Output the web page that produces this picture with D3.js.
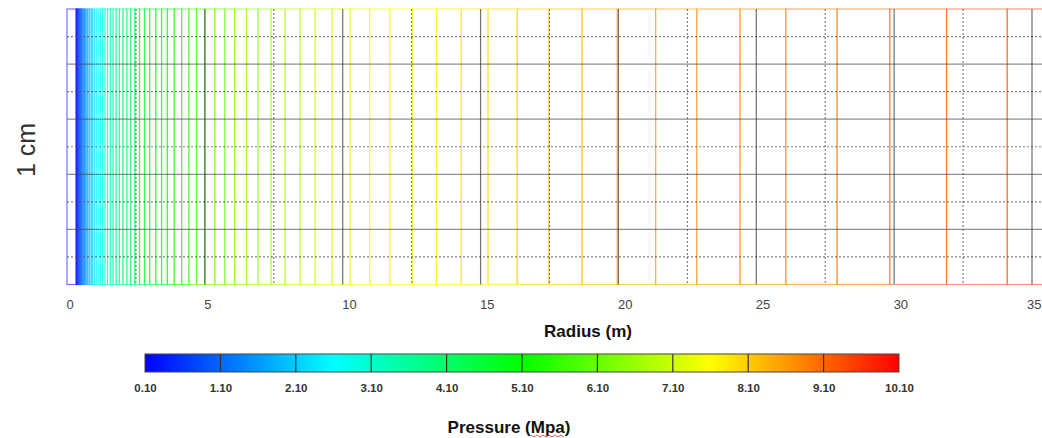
<!DOCTYPE html>
<html>
<head>
<meta charset="utf-8">
<script src="https://cdn.jsdelivr.net/npm/d3@7"></script>
<style>
  body { margin: 0; background: #fff; }
  svg { display: block; }
</style>
</head>
<body>
<div id="chart"></div>
<script>
// Mesh cell boundaries along the radius (m)
const cellEdges = [0, 0.33, 0.35, 0.38, 0.40, 0.43, 0.46, 0.49, 0.52, 0.55, 0.59, 0.63, 0.67, 0.72, 0.76,
  0.82, 0.88, 0.93, 0.99, 1.06, 1.13, 1.21, 1.29, 1.38, 1.47, 1.57, 1.67, 1.78, 1.90, 2.03, 2.17, 2.31,
  2.46, 2.63, 2.81, 3.00, 3.22, 3.43, 3.64, 3.89, 4.16, 4.42, 4.70, 5.00, 5.36, 5.72, 6.08, 6.51, 6.93,
  7.40, 7.91, 8.45, 9.00, 9.61, 10.27, 10.98, 11.71, 12.53, 13.40, 14.30, 15.27, 16.33, 17.48, 18.68,
  19.96, 21.35, 22.84, 24.41, 26.07, 27.93, 29.84, 31.90, 34.10, 36.50];

// Pressure (MPa) of each cell, estimated from the line colours
const cellPressure = [0.10, 0.10, 0.23, 0.40, 0.51, 0.66, 0.81, 0.94, 1.07, 1.19, 1.33, 1.47, 1.60, 1.76,
  1.87, 2.03, 2.18, 2.30, 2.43, 2.58, 2.72, 2.86, 3.00, 3.14, 3.27, 3.41, 3.55, 3.68, 3.82, 3.96, 4.10,
  4.24, 4.37, 4.51, 4.65, 4.79, 4.94, 5.08, 5.20, 5.34, 5.49, 5.61, 5.74, 5.88, 6.02, 6.16, 6.29, 6.44,
  6.57, 6.71, 6.85, 6.99, 7.13, 7.26, 7.45, 7.55, 7.62, 7.70, 7.78, 7.88, 7.98, 8.10, 8.22, 8.35, 8.48,
  8.60, 8.72, 8.84, 8.95, 9.06, 9.16, 9.26, 9.36];

const radiusTicks = [0, 5, 10, 15, 20, 25, 30, 35];
const radiusMinor = [2.5, 7.5, 12.5, 17.5, 22.5, 27.5, 32.5];
const heightMajor = [0.2, 0.4, 0.6, 0.8];
const heightMinor = [0.1, 0.3, 0.5, 0.7, 0.9];

const pressureTicks = [0.10, 1.10, 2.10, 3.10, 4.10, 5.10, 6.10, 7.10, 8.10, 9.10, 10.10];
const colorStops = [0.10, 2.60, 5.10, 7.60, 10.10];
const colorNames = ["#0000ff", "#00ffff", "#00ff00", "#ffff00", "#ff0000"];

const W = 1042, H = 438;
const svg = d3.select("#chart").append("svg")
  .attr("width", W).attr("height", H)
  .style("font-family", "'Liberation Sans', Arial, sans-serif");

const x = d3.scaleLinear().domain([0, 35]).range([67, 1032]);
const y = d3.scaleLinear().domain([0, 1]).range([284.5, 9]);
const color = d3.scaleLinear().domain(colorStops).range(colorNames);

// cells, each outlined in the colour of its pressure
const cells = cellPressure.map((p, i) => ({ r0: cellEdges[i], r1: cellEdges[i + 1], p: p }));
svg.append("g").selectAll("rect")
  .data(cells)
  .enter()
  .append("rect")
  .attr("x", d => x(d.r0))
  .attr("y", y(1))
  .attr("width", d => x(d.r1) - x(d.r0))
  .attr("height", y(0) - y(1))
  .attr("fill", "none")
  .attr("stroke", d => color(d.p))
  .attr("stroke-opacity", 0.55)
  .attr("stroke-width", 1.2);

// grid lines on top
const grid = svg.append("g");
grid.selectAll(".hmaj").data(heightMajor).enter().append("line")
  .attr("x1", x(0)).attr("x2", W)
  .attr("y1", d => y(d)).attr("y2", d => y(d))
  .attr("stroke", "#444").attr("stroke-opacity", 0.6).attr("stroke-width", 1.3);
grid.selectAll(".hmin").data(heightMinor).enter().append("line")
  .attr("x1", x(0)).attr("x2", W)
  .attr("y1", d => y(d)).attr("y2", d => y(d))
  .attr("stroke", "#555").attr("stroke-opacity", 0.75).attr("stroke-width", 1.2)
  .attr("stroke-dasharray", "2,2");
grid.selectAll(".vmaj").data(radiusTicks.slice(1)).enter().append("line")
  .attr("x1", d => x(d)).attr("x2", d => x(d))
  .attr("y1", y(1)).attr("y2", y(0))
  .attr("stroke", "#333").attr("stroke-opacity", 0.7).attr("stroke-width", 1.2);
grid.selectAll(".vmin").data(radiusMinor).enter().append("line")
  .attr("x1", d => x(d)).attr("x2", d => x(d))
  .attr("y1", y(1)).attr("y2", y(0))
  .attr("stroke", "#555").attr("stroke-opacity", 0.75).attr("stroke-width", 1.2)
  .attr("stroke-dasharray", "2,2");

// x axis labels
const xAxis = svg.append("g")
  .attr("transform", "translate(0," + y(0) + ")")
  .call(d3.axisBottom(x).tickValues(radiusTicks).tickSize(0).tickPadding(15).tickFormat(d3.format("d")));
xAxis.select(".domain").remove();
xAxis.selectAll("text")
  .attr("text-anchor", d => d === 35 ? "end" : "start")
  .attr("dx", d => d === 35 ? "9" : "-1")
  .style("font-size", "13px")
  .style("font-family", "'Liberation Sans', Arial, sans-serif")
  .attr("fill", "#444");

svg.append("text")
  .attr("x", 588).attr("y", 337)
  .attr("text-anchor", "middle")
  .style("font-size", "17px").style("font-weight", "bold")
  .attr("fill", "#111")
  .text("Radius (m)");

svg.append("text")
  .attr("transform", "translate(35,150) rotate(-90)")
  .attr("text-anchor", "middle")
  .style("font-size", "25px")
  .attr("fill", "#333")
  .text("1 cm");

// colour bar
const cb = d3.scaleLinear().domain([0.10, 10.10]).range([145, 899]);
const defs = svg.append("defs");
const grad = defs.append("linearGradient").attr("id", "pgrad");
grad.selectAll("stop").data(colorStops).enter().append("stop")
  .attr("offset", d => (cb(d) - 145) / (899 - 145))
  .attr("stop-color", d => color(d));

svg.append("rect")
  .attr("x", cb(0.10)).attr("y", 354)
  .attr("width", cb(10.10) - cb(0.10)).attr("height", 18)
  .attr("fill", "url(#pgrad)")
  .attr("stroke", "#444").attr("stroke-width", 1);

svg.append("g").selectAll("line")
  .data(pressureTicks.slice(1, -1))
  .enter().append("line")
  .attr("x1", d => cb(d)).attr("x2", d => cb(d))
  .attr("y1", 354).attr("y2", 372)
  .attr("stroke", "#333").attr("stroke-width", 1.2);

const cbAxis = svg.append("g")
  .attr("transform", "translate(0,372)")
  .call(d3.axisBottom(cb).tickValues(pressureTicks).tickSize(0).tickPadding(12).tickFormat(d3.format(".2f")));
cbAxis.select(".domain").remove();
cbAxis.selectAll("text")
  .style("font-size", "11.5px").style("font-weight", "bold")
  .style("font-family", "'Liberation Sans', Arial, sans-serif")
  .attr("fill", "#333");

svg.append("text")
  .attr("x", 509).attr("y", 433)
  .attr("text-anchor", "middle")
  .style("font-size", "17px").style("font-weight", "bold")
  .attr("fill", "#111")
  .text("Pressure (Mpa)");

// spell-check squiggle under "Mpa"
const sq = d3.range(0, 12).map(i => [531 + i * 3, i % 2 ? 437 : 435]);
svg.append("path")
  .attr("d", d3.line()(sq))
  .attr("fill", "none").attr("stroke", "#e03030").attr("stroke-width", 0.8);
</script>
</body>
</html>
